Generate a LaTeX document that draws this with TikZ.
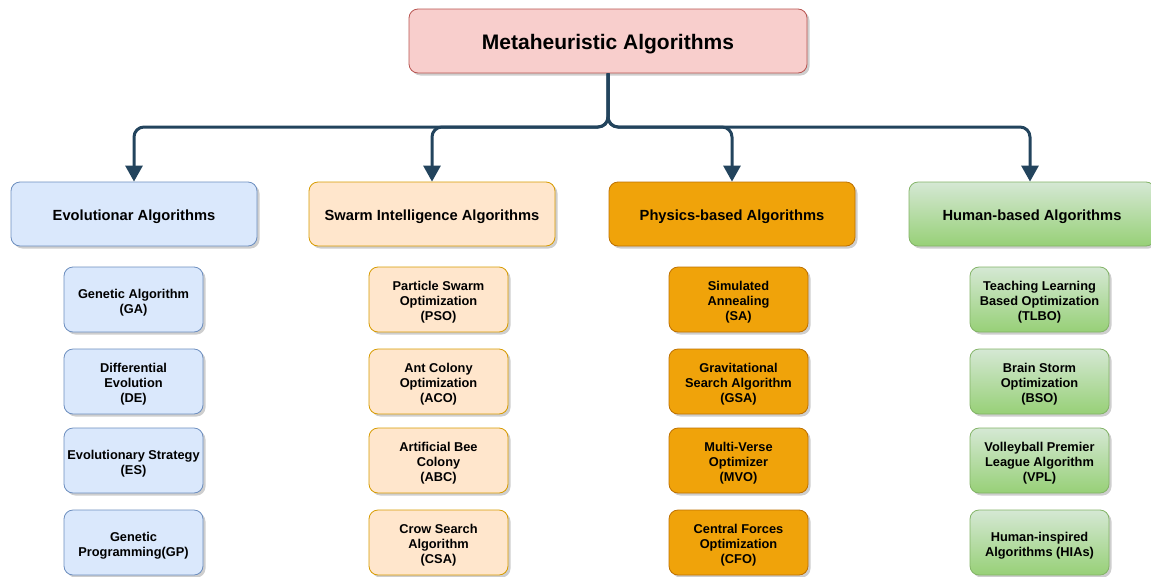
\documentclass[tikz,border=0pt]{standalone}
\usepackage{fontspec}
\setmainfont{Liberation Sans}
\usetikzlibrary{arrows.meta,shadows}

\definecolor{rootfill}{HTML}{F8CECC}
\definecolor{rootline}{HTML}{B85450}
\definecolor{bluefill}{HTML}{DAE8FC}
\definecolor{blueline}{HTML}{6C8EBF}
\definecolor{peachfill}{HTML}{FFE6CC}
\definecolor{peachline}{HTML}{D79B00}
\definecolor{orangefill}{HTML}{F0A30A}
\definecolor{orangeline}{HTML}{BD7000}
\definecolor{greentop}{HTML}{D5E8D4}
\definecolor{greenbot}{HTML}{97D077}
\definecolor{greenline}{HTML}{82B366}
\definecolor{connector}{HTML}{23445D}

% a strut taller than the first line, so the text sits a little lower
\newcommand{\ls}{\rule{0pt}{\dimexpr 0.73em+6pt\relax}}

\tikzset{
  box/.style={rectangle, rounded corners=9pt, line width=0.8pt, align=center,
    drop shadow={shadow xshift=2.5pt, shadow yshift=-2.5pt, fill=black!35, opacity=0.55}},
  rootbox/.style={box, fill=rootfill, draw=rootline, minimum width=398pt,
    minimum height=64pt, execute at begin node=\ls,
    font=\fontsize{21}{25}\selectfont\bfseries},
  catbox/.style={box, minimum width=246pt, minimum height=64pt,
    execute at begin node=\ls,
    font=\fontsize{14.7}{17}\selectfont\bfseries},
  leafbox/.style={box, minimum width=139pt, minimum height=65pt,
    font=\fontsize{12.8}{15}\selectfont\bfseries},
  evo/.style={fill=bluefill, draw=blueline},
  swarm/.style={fill=peachfill, draw=peachline},
  phys/.style={fill=orangefill, draw=orangeline},
  human/.style={top color=greentop, bottom color=greenbot, draw=greenline},
  conn/.style={draw=connector, line width=3pt, rounded corners=10pt,
    -{Triangle[width=17pt,length=16pt]}}
}

\begin{document}
\begin{tikzpicture}[x=1pt,y=-1pt]
\useasboundingbox (0,0) rectangle (1151,576);

% root
\node[rootbox] (root) at (608,41) {Metaheuristic Algorithms};

% categories
\node[catbox,evo]   (cEvo)   at (134,214) {Evolutionar Algorithms};
\node[catbox,swarm] (cSwarm) at (432,214) {Swarm Intelligence Algorithms};
\node[catbox,phys]  (cPhys)  at (732,214) {Physics-based Algorithms};
\node[catbox,human] (cHuman) at (1032,214) {Human-based Algorithms};

% connectors from the root to each category
\coordinate (split) at (608,127);
\draw[conn] (root.south) -- (split) -| (cEvo.north);
\draw[conn] (root.south) -- (split) -| (cSwarm.north);
\draw[conn] (root.south) -- (split) -| (cPhys.north);
\draw[conn] (root.south) -- (split) -| ([xshift=-2pt]cHuman.north);

% evolutionary algorithms
\node[leafbox,evo] (ga) at (133.5,299.5) {\ls Genetic Algorithm\\(GA)};
\node[leafbox,evo] (de) at (133.5,381.5) {\ls Differential\\Evolution\\(DE)};
\node[leafbox,evo] (es) at (133.5,460.5) {\ls Evolutionary Strategy\\(ES)};
\node[leafbox,evo] (gp) at (133.5,542.5) {\ls Genetic\\Programming(GP)};

% swarm intelligence algorithms
\node[leafbox,swarm] (pso) at (438.5,299.5) {\ls Particle Swarm\\Optimization\\(PSO)};
\node[leafbox,swarm] (aco) at (438.5,381.5) {\ls Ant Colony\\Optimization\\(ACO)};
\node[leafbox,swarm] (abc) at (438.5,460.5) {\ls Artificial Bee\\Colony\\(ABC)};
\node[leafbox,swarm] (csa) at (438.5,542.5) {\ls Crow Search\\Algorithm\\(CSA)};

% physics-based algorithms
\node[leafbox,phys] (sa)  at (738.5,299.5) {\ls Simulated\\Annealing\\(SA)};
\node[leafbox,phys] (gsa) at (738.5,381.5) {\ls Gravitational\\Search Algorithm\\(GSA)};
\node[leafbox,phys] (mvo) at (738.5,460.5) {\ls Multi-Verse\\Optimizer\\(MVO)};
\node[leafbox,phys] (cfo) at (738.5,542.5) {\ls Central Forces\\Optimization\\(CFO)};

% human-based algorithms
\node[leafbox,human] (tlbo) at (1039.5,299.5) {\ls Teaching Learning\\Based Optimization\\(TLBO)};
\node[leafbox,human] (bso)  at (1039.5,381.5) {\ls Brain Storm\\Optimization\\(BSO)};
\node[leafbox,human] (vpl)  at (1039.5,460.5) {\ls Volleyball Premier\\League Algorithm\\(VPL)};
\node[leafbox,human] (hia)  at (1039.5,542.5) {\ls Human-inspired\\Algorithms (HIAs)};
\end{tikzpicture}
\end{document}
